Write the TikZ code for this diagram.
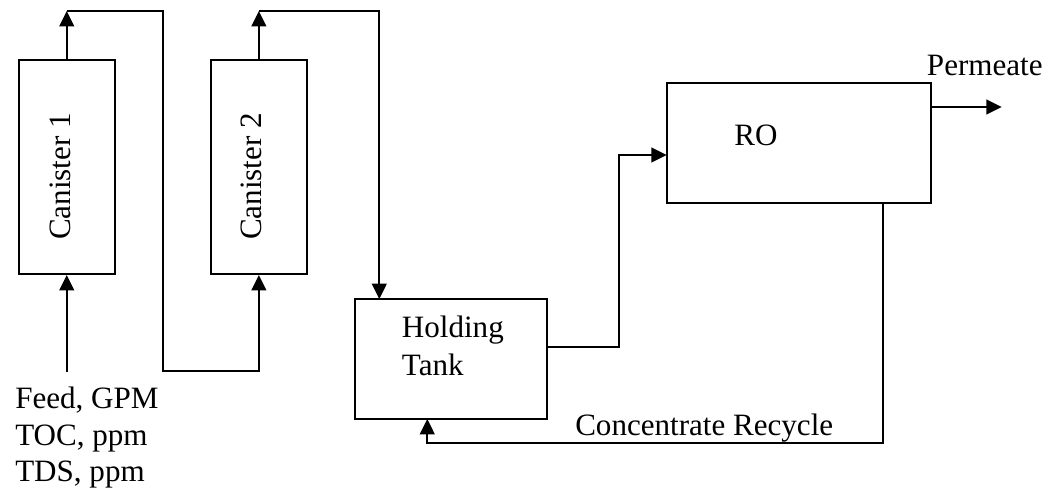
\documentclass[tikz,border=0pt]{standalone}
\usepackage{fontspec}
\setmainfont{Liberation Serif}
\usetikzlibrary{arrows.meta,fit}
\begin{document}
\begin{tikzpicture}[x=0.75pt,y=-0.75pt,
  box/.style={draw,line width=1.5pt,inner sep=0pt,rectangle},
  flow/.style={line width=1.5pt},
  tip/.style={-{Triangle[length=11.5pt,width=11pt]}},
  lbl/.style={inner sep=0pt,anchor=base west,font=\fontsize{23.3}{28}\selectfont}]
\useasboundingbox (0,0) rectangle (1056,492);

% boxes
\node[box,fit={(18.5,60)(115,274)}] (c1) {};
\node[box,fit={(210.7,60)(307,274)}] (c2) {};
\node[box,fit={(355,299)(546.7,419)}] (tank) {};
\node[box,fit={(666.7,82.7)(930.7,203)}] (ro) {};

% labels
\node[lbl,rotate=90,anchor=base] (t1) at (70,176.5) {Canister 1};
\node[lbl,rotate=90,anchor=base] (t2) at (261.5,176.5) {Canister 2};
\node[lbl] (th) at (401.7,337.7) {Holding};
\node[lbl] (tt) at (401.7,375) {Tank};
\node[lbl,anchor=base] (tro) at (756,145) {RO};
\node[lbl] (tp) at (926.7,75) {Permeate};
\node[lbl] (tc) at (575,435) {Concentrate Recycle};
\node[lbl] (f1) at (15,408.3) {Feed, GPM};
\node[lbl] (f2) at (15,445) {TOC, ppm};
\node[lbl] (f3) at (15,481.7) {TDS, ppm};

% helper coordinates
\coordinate (feed) at (66.75,371.7);
\coordinate (top1) at (66.75,11);
\coordinate (r1) at (163,11);
\coordinate (b1) at (163,371);
\coordinate (b2) at (258.85,371);
\coordinate (top2) at (258.85,11);
\coordinate (r2) at (379.3,11);
\coordinate (tin) at (379.3,299);
\coordinate (tout) at (546.7,347.3);
\coordinate (rise) at (619,347.3);
\coordinate (riseTop) at (619,155);
\coordinate (roin) at (666.7,155);
\coordinate (pin) at (930.7,107);
\coordinate (pout) at (1001.7,107);
\coordinate (rcTop) at (882.7,203);
\coordinate (rcBot) at (882.7,442.7);
\coordinate (rcL) at (427.3,442.7);
\coordinate (rcIn) at (427.3,419);

% connectors
\draw[flow,tip] (feed) -- (c1.south);
\draw[flow,tip] (c1.north) -- (top1);
\draw[flow,tip,line join=miter] (top1) -- (r1) -- (b1) -- (b2) -- (c2.south);
\draw[flow,tip] (c2.north) -- (top2);
\draw[flow,tip,line join=miter] (top2) -- (r2) -- (tin);
\draw[flow,tip,line join=miter] (tout) -- (rise) -- (riseTop) -- (roin);
\draw[flow,tip] (pin) -- (pout);
\draw[flow,tip,line join=miter] (rcTop) -- (rcBot) -- (rcL) -- (rcIn);
\end{tikzpicture}
\end{document}
